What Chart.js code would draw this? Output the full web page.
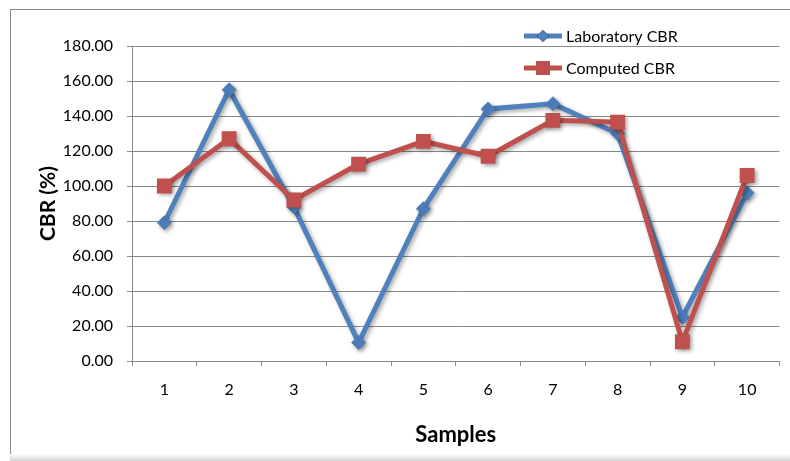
<!DOCTYPE html>
<html>
<head>
<meta charset="utf-8">
<script src="https://cdn.jsdelivr.net/npm/chart.js@4/dist/chart.umd.min.js"></script>
<style>
  html, body { margin: 0; padding: 0; background: #fff; }
  #wrap { position: relative; width: 790px; height: 461px; overflow: hidden; background: #fff; }
  #frame { position: absolute; left: 10px; top: 9px; width: 800px; height: 460px; border-left: 1px solid #8a8a8a; border-top: 1px solid #8a8a8a; }
  #shadow { position: absolute; left: 10px; top: 454px; width: 800px; height: 7px; background: linear-gradient(#ffffff, #d4d4d4); }
  canvas { position: absolute; left: 0; top: 0; }
</style>
</head>
<body>
<div id="wrap">
  <div id="frame"></div>
  <div id="shadow"></div>
  <canvas id="c" width="790" height="461"></canvas>
</div>
<script>
const samples = ['1', '2', '3', '4', '5', '6', '7', '8', '9', '10'];
const laboratoryCBR = [79, 155, 88, 10.5, 87, 144, 147, 130, 25, 96];
const computedCBR = [100, 127, 92, 112.5, 125.5, 117, 137.5, 136.5, 11, 106];
const seriesNames = ['Laboratory CBR', 'Computed CBR'];
const yAxisTitle = 'CBR (%)';
const xAxisTitle = 'Samples';

const FONT = 'Lato, "Open Sans", "Liberation Sans", sans-serif';
const BLUE = '#4F81BD';
const RED = '#C0504D';
const GRID = '#8a8a8a';

const shadowPlugin = {
  id: 'shadow',
  beforeDatasetDraw(chart) {
    const ctx = chart.ctx;
    ctx.save();
    ctx.shadowColor = 'rgba(0,0,0,0.35)';
    ctx.shadowBlur = 4;
    ctx.shadowOffsetX = 2;
    ctx.shadowOffsetY = 2;
  },
  afterDatasetDraw(chart) {
    chart.ctx.restore();
  }
};

const legendPlugin = {
  id: 'customLegend',
  afterDraw(chart) {
    const ctx = chart.ctx;
    const rows = [36, 68];
    const x0 = 524, x1 = 562;
    chart.data.datasets.forEach((ds, i) => {
      const y = rows[i];
      ctx.save();
      ctx.strokeStyle = ds.borderColor;
      ctx.lineWidth = ds.borderWidth;
      ctx.beginPath();
      ctx.moveTo(x0, y);
      ctx.lineTo(x1, y);
      ctx.stroke();
      Chart.helpers.drawPoint(ctx, {
        pointStyle: ds.pointStyle,
        radius: ds.legendRadius,
        borderWidth: 0
      }, (x0 + x1) / 2, y);
      ctx.fillStyle = ds.pointBackgroundColor;
      ctx.beginPath();
      if (ds.pointStyle === 'rectRot') {
        const r = ds.legendRadius;
        const cx = (x0 + x1) / 2;
        ctx.moveTo(cx - r, y); ctx.lineTo(cx, y - r); ctx.lineTo(cx + r, y); ctx.lineTo(cx, y + r);
      } else {
        const s = ds.legendRadius;
        ctx.rect((x0 + x1) / 2 - s, y - s, 2 * s, 2 * s);
      }
      ctx.closePath();
      ctx.fill();
      ctx.fillStyle = '#000';
      ctx.font = '16px ' + FONT;
      ctx.textBaseline = 'middle';
      ctx.textAlign = 'left';
      ctx.fillText(ds.label, 566, y + 1);
      ctx.restore();
    });
  }
};

new Chart(document.getElementById('c'), {
  type: 'line',
  data: {
    labels: samples,
    datasets: [
      {
        label: seriesNames[0],
        data: laboratoryCBR,
        borderColor: BLUE,
        backgroundColor: BLUE,
        pointBackgroundColor: BLUE,
        pointBorderColor: BLUE,
        borderWidth: 5,
        pointStyle: 'rectRot',
        pointRadius: 7,
        pointBorderWidth: 1,
        legendRadius: 6,
        tension: 0,
        order: 2
      },
      {
        label: seriesNames[1],
        data: computedCBR,
        borderColor: RED,
        backgroundColor: RED,
        pointBackgroundColor: RED,
        pointBorderColor: RED,
        borderWidth: 5,
        pointStyle: 'rect',
        pointRadius: 10.5,
        pointBorderWidth: 0,
        legendRadius: 7,
        tension: 0,
        order: 1
      }
    ]
  },
  options: {
    responsive: false,
    animation: false,
    devicePixelRatio: 1,
    layout: { padding: { left: 0, top: 46, right: 4, bottom: 0 } },
    plugins: {
      legend: { display: false },
      tooltip: { enabled: false }
    },
    scales: {
      x: {
        type: 'category',
        offset: true,
        afterFit(scale) { scale.height = 100; },
        grid: {
          offset: true,
          drawOnChartArea: false,
          drawTicks: true,
          tickLength: 5,
          color: GRID,
          lineWidth: 1
        },
        border: { display: true, color: GRID, width: 1 },
        ticks: {
          color: '#000',
          font: { family: FONT, size: 16 },
          padding: 14,
          maxRotation: 0
        },
        title: {
          display: true,
          text: xAxisTitle,
          color: '#000',
          font: { family: FONT, size: 22, weight: 'bold' },
          padding: { top: 0, bottom: 13 }
        }
      },
      y: {
        min: 0,
        max: 180,
        afterFit(scale) { scale.width = 132; },
        grid: {
          drawOnChartArea: true,
          drawTicks: true,
          tickLength: 5,
          color: GRID,
          lineWidth: 1
        },
        border: { display: true, color: GRID, width: 1 },
        ticks: {
          stepSize: 20,
          color: '#000',
          font: { family: FONT, size: 16 },
          padding: 14,
          callback: v => Number(v).toFixed(2)
        },
        title: {
          display: true,
          text: yAxisTitle,
          color: '#000',
          font: { family: FONT, size: 21, weight: 'bold' },
          padding: { top: 36, bottom: 0 }
        }
      }
    }
  },
  plugins: [shadowPlugin, legendPlugin]
});
</script>
</body>
</html>
